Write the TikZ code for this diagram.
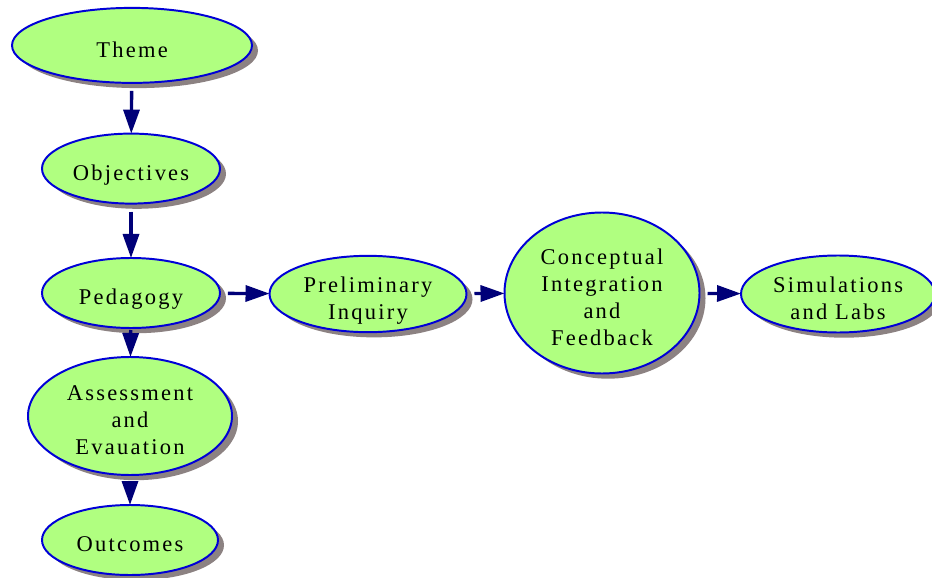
\documentclass[tikz,border=0pt]{standalone}
\usepackage{fontspec}
\setmainfont{Liberation Serif}[LetterSpace=10]
\usetikzlibrary{shapes.geometric,shadows,arrows.meta}

\definecolor{nodefill}{RGB}{176,255,128}
\definecolor{nodeline}{RGB}{0,0,215}
\definecolor{edgecol}{RGB}{0,0,120}
\definecolor{shadowgray}{RGB}{140,130,130}

% texto um pouco abaixo do centro da elipse
\newcommand{\tlines}[1]{\raisebox{-0.16cm}[\height][\depth]{\begin{tabular}{@{}c@{}}#1\end{tabular}}}

\begin{document}
\begin{tikzpicture}[scale=1.0]
\tikzset{ >={Triangle[length=0.6cm,width=0.4cm]}, inner sep=0pt, outer sep=0pt,
  topic/.style={ellipse, draw=nodeline, line width=1.4pt, fill=nodefill,
    font=\fontsize{16pt}{19.2pt}\selectfont,
    drop shadow={shadow xshift=0.15cm, shadow yshift=-0.13cm, fill=shadowgray, opacity=1}},
  link/.style={->, draw=edgecol, fill=edgecol, line width=2.4pt, shorten <=0.2cm},
}

\useasboundingbox (0,0) rectangle (23.3,14.425);

%%% Nos

% coluna da esquerda
\node [topic, minimum width=6.0cm,  minimum height=1.875cm] (theme)      at (3.30,13.29)  {\tlines{Theme}};
\node [topic, minimum width=4.45cm, minimum height=1.75cm]  (objectives) at (3.275,10.21) {\tlines{Objectives}};
\node [topic, minimum width=4.45cm, minimum height=1.75cm]  (pedagogy)   at (3.275,7.10)  {\tlines{Pedagogy}};
\node [topic, minimum width=5.1cm,  minimum height=2.95cm]  (assessment) at (3.25,4.025)  {\tlines{Assessment\\and\\Evauation}};
\node [topic, minimum width=4.4cm,  minimum height=1.75cm]  (outcomes)   at (3.25,0.925)  {\tlines{Outcomes}};

% linha do meio
\node [topic, minimum width=4.925cm, minimum height=1.8cm]   (inquiry)    at (9.20,7.075)  {\tlines{Preliminary\\Inquiry}};
\node [topic, minimum width=4.875cm, minimum height=4.025cm] (conceptual) at (15.05,7.10) {\tlines{Conceptual\\Integration\\and\\Feedback}};
\node [topic, minimum width=4.85cm,  minimum height=1.925cm] (simlabs)    at (20.95,7.075) {\tlines{Simulations\\and Labs}};

%%% Linhas

\draw [link] (theme)      -- (objectives);
\draw [link] (objectives) -- (pedagogy);
\draw [link, shorten <=0.05cm] (pedagogy) -- (assessment);
\draw [link] (assessment) -- (outcomes);

\draw [link] (pedagogy)   -- (inquiry);
\draw [link] (inquiry)    -- (conceptual);
\draw [link] (conceptual) -- (simlabs);

\end{tikzpicture}
\end{document}
